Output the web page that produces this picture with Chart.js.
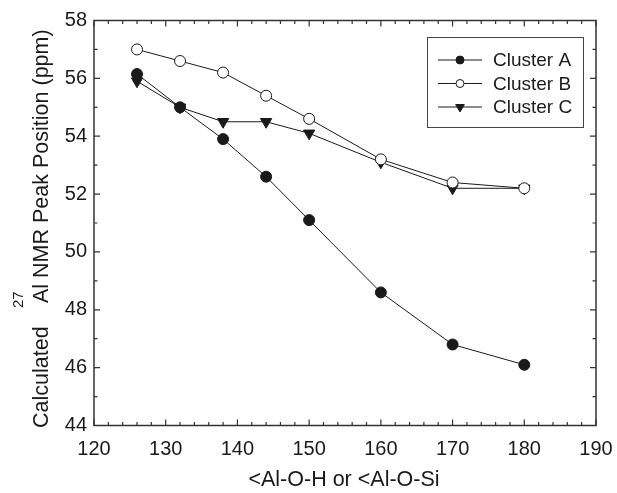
<!DOCTYPE html>
<html>
<head>
<meta charset="utf-8">
<script src="https://cdn.jsdelivr.net/npm/chart.js@4.4.1/dist/chart.umd.min.js"></script>
<style>
  html, body { margin: 0; padding: 0; background: #fff; }
  #wrap { width: 617px; height: 493px; }
</style>
</head>
<body>
<div id="wrap"><canvas id="myChart" width="617" height="493"></canvas></div>
<script>
const angles = [126, 132, 138, 144, 150, 160, 170, 180];
const clusterA = [56.15, 55.0, 53.9, 52.6, 51.1, 48.6, 46.8, 46.1];
const clusterB = [57.0, 56.6, 56.2, 55.4, 54.6, 53.2, 52.4, 52.2];
const clusterC = [55.9, 55.0, 54.5, 54.5, 54.1, 53.1, 52.2, 52.2];
const seriesNames = ['Cluster A', 'Cluster B', 'Cluster C'];
const xTickValues = [120, 130, 140, 150, 160, 170, 180, 190];
const yTickValues = [44, 46, 48, 50, 52, 54, 56, 58];

const FONT = 'Liberation Sans, Arial, sans-serif';
const INK = '#1a1a1a';

function pts(ys) {
  return angles.map((x, i) => ({ x: x, y: ys[i] }));
}

const data = {
  datasets: [{
    label: seriesNames[0],
    data: pts(clusterA),
    borderColor: INK, backgroundColor: INK,
    pointStyle: 'circle', pointRadius: 5.5, borderWidth: 1, pointBorderWidth: 1
  }, {
    label: seriesNames[1],
    data: pts(clusterB),
    borderColor: INK, backgroundColor: '#fff',
    pointStyle: 'circle', pointRadius: 5.5, borderWidth: 1, pointBorderWidth: 1
  }, {
    label: seriesNames[2],
    data: pts(clusterC),
    borderColor: INK, backgroundColor: INK,
    pointStyle: 'triangle', pointRotation: 180, pointRadius: 6.5, borderWidth: 1, pointBorderWidth: 1
  }]
};

// frame, inward ticks, titles and legend
const decor = {
  id: 'decor',
  afterDraw(chart) {
    const ctx = chart.ctx;
    const a = chart.chartArea;
    const xs = chart.scales.x, ys = chart.scales.y;
    ctx.save();
    ctx.strokeStyle = '#333';
    ctx.lineWidth = 1.5;
    ctx.strokeRect(a.left, a.top, a.right - a.left, a.bottom - a.top);
    ctx.lineWidth = 1.2;
    ctx.beginPath();
    for (let v = 120; v <= 190; v += 2) {
      const p = xs.getPixelForValue(v);
      const len = (v % 10 === 0) ? 6 : 3.5;
      ctx.moveTo(p, a.bottom); ctx.lineTo(p, a.bottom - len);
      ctx.moveTo(p, a.top); ctx.lineTo(p, a.top + len);
    }
    for (let v = 44; v <= 58; v += 1) {
      const p = ys.getPixelForValue(v);
      const len = (v % 2 === 0) ? 6 : 3.5;
      ctx.moveTo(a.left, p); ctx.lineTo(a.left + len, p);
      ctx.moveTo(a.right, p); ctx.lineTo(a.right - len, p);
    }
    ctx.stroke();

    // x title
    ctx.fillStyle = INK;
    ctx.font = '21.5px ' + FONT;
    ctx.textAlign = 'center';
    ctx.textBaseline = 'middle';
    ctx.fillText('<Al-O-H or <Al-O-Si', 344, 480);

    // y title (rotated, with superscript)
    ctx.save();
    ctx.translate(42, 0);
    ctx.rotate(-Math.PI / 2);
    ctx.textBaseline = 'middle';
    ctx.textAlign = 'left';
    ctx.font = '21.5px ' + FONT;
    ctx.fillText('Calculated', -428, 0);
    ctx.fillText('Al NMR Peak Position (ppm)', -303, 0);
    ctx.font = '15px ' + FONT;
    ctx.fillText('27', -308, -23);
    ctx.restore();

    // legend
    const lx = 427, ly = 37, lw = 156, lh = 90;
    ctx.fillStyle = '#fff';
    ctx.fillRect(lx, ly, lw, lh);
    ctx.strokeStyle = '#444';
    ctx.lineWidth = 1;
    ctx.strokeRect(lx + 0.5, ly + 0.5, lw, lh);
    chart.data.datasets.forEach((ds, i) => {
      const cy = ly + 23 + i * 23.5;
      ctx.strokeStyle = INK;
      ctx.lineWidth = 1;
      ctx.beginPath();
      ctx.moveTo(438, cy); ctx.lineTo(482, cy);
      ctx.stroke();
      ctx.fillStyle = ds.backgroundColor;
      Chart.helpers.drawPoint(ctx, {
        pointStyle: ds.pointStyle, rotation: ds.pointRotation || 0,
        radius: ds.pointStyle === 'triangle' ? 5 : 4, borderWidth: 1
      }, 460, cy);
      ctx.fillStyle = INK;
      ctx.font = '19px ' + FONT;
      ctx.textAlign = 'left';
      ctx.textBaseline = 'middle';
      ctx.fillText(ds.label, 493, cy + 1);
    });
    ctx.restore();
  }
};

const config = {
  type: 'line',
  data: data,
  options: {
    responsive: false,
    animation: false,
    layout: { padding: { top: 20.5, right: 21, left: 0, bottom: 0 } },
    plugins: { legend: { display: false }, tooltip: { enabled: false } },
    scales: {
      x: {
        type: 'linear', min: 120, max: 190,
        afterBuildTicks: s => { s.ticks = xTickValues.map(v => ({ value: v })); },
        afterFit: s => { s.height = 67.5; s.paddingLeft = 0; s.paddingRight = 0; },
        grid: { display: false, drawTicks: false },
        border: { display: false },
        ticks: { padding: 12, color: INK, font: { family: FONT, size: 20 }, maxRotation: 0 }
      },
      y: {
        type: 'linear', min: 44, max: 58,
        afterBuildTicks: s => { s.ticks = yTickValues.map(v => ({ value: v })); },
        afterFit: s => { s.width = 94; s.paddingTop = 0; s.paddingBottom = 0; },
        grid: { display: false, drawTicks: false },
        border: { display: false },
        ticks: { padding: 7, color: INK, font: { family: FONT, size: 20 } }
      }
    }
  },
  plugins: [decor]
};

const myChart = new Chart(document.getElementById('myChart'), config);
</script>
</body>
</html>
